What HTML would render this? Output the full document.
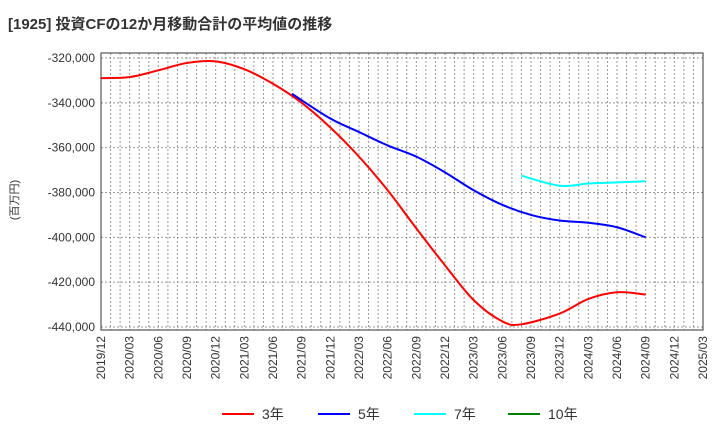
<!DOCTYPE html>
<html><head><meta charset="utf-8"><style>
body{margin:0;background:#fff;font-family:"Liberation Sans","Noto Sans CJK JP",sans-serif}
</style></head><body>
<svg id="c" width="720" height="440" xmlns="http://www.w3.org/2000/svg">
<text x="8" y="29" font-size="15" font-weight="bold" fill="#333" font-family="Liberation Sans, Noto Sans CJK JP, sans-serif">[1925]  投資CFの12か月移動合計の平均値の推移</text>
<text transform="translate(18,200) rotate(-90)" font-size="11" text-anchor="middle" fill="#333" font-family="Liberation Sans, Noto Sans CJK JP, sans-serif">(百万円)</text>
<g id="grid"></g><g id="axes"></g><g id="series"></g><g id="legend"></g>
</svg>
<script>
const xLabels=["2019/12","2020/03","2020/06","2020/09","2020/12","2021/03","2021/06","2021/09","2021/12","2022/03","2022/06","2022/09","2022/12","2023/03","2023/06","2023/09","2023/12","2024/03","2024/06","2024/09","2024/12","2025/03"];
const yTicks=[-320000,-340000,-360000,-380000,-400000,-420000,-440000];
const s3Months=[0,3,6,9,12,15,18,21,24,27,30,33,36,39,42,44,48,51,54,57];
const s3Values=[-329000,-328500,-325500,-322200,-321500,-325000,-331500,-340000,-351000,-364000,-379000,-396000,-412500,-428000,-437500,-438800,-434000,-427500,-424500,-425500];
const s5Months=[20,24,27,30,33,36,39,42,45,48,51,54,57];
const s5Values=[-336000,-347000,-353000,-359000,-364000,-371000,-379000,-385500,-390000,-392500,-393500,-395500,-400000];
const s7Months=[44,48,51,54,57];
const s7Values=[-372500,-377000,-376000,-375500,-375000];
const NS="http://www.w3.org/2000/svg";
const L=101,R=703,T=53,B=330;
const X=m=>L+m*(R-L)/63;
const Y=v=>58+(-320000-v)/1000*(327-58)/120;
function mk(tag,attrs,parent){const e=document.createElementNS(NS,tag);for(const k in attrs)e.setAttribute(k,attrs[k]);parent.appendChild(e);return e;}
const grid=document.getElementById('grid'),axes=document.getElementById('axes'),ser=document.getElementById('series'),leg=document.getElementById('legend');
for(let m=1;m<63;m++){const l=mk('line',{x1:X(m),x2:X(m),y1:T,y2:B,stroke:'#999','stroke-dasharray':'2,2','stroke-width':1},grid);

}
yTicks.forEach(v=>{const l=mk('line',{x1:L,x2:R,y1:Y(v),y2:Y(v),stroke:'#999','stroke-dasharray':'2,2','stroke-width':1},grid);


const t=mk('text',{x:L-6,y:Y(v)+4,'text-anchor':'end','font-size':12,fill:'#333'},axes);t.textContent=v.toLocaleString('en-US');

});
xLabels.forEach((s,i)=>{const x=X(i*3);const t=mk('text',{transform:`translate(${x+4},336) rotate(-90)`,'text-anchor':'end','font-size':12,fill:'#333'},axes);t.textContent=s;

});
const fr=mk('rect',{x:L,y:T,width:R-L,height:B-T,fill:'none',stroke:'#333','stroke-width':1},axes);


function path(ms,vs){const p=ms.map((m,i)=>[X(m),Y(vs[i])]);let d=`M${p[0][0]},${p[0][1]}`;
for(let i=0;i<p.length-1;i++){const p0=p[Math.max(0,i-1)],p1=p[i],p2=p[i+1],p3=p[Math.min(p.length-1,i+2)];
d+=` C${p1[0]+(p2[0]-p0[0])/6},${p1[1]+(p2[1]-p0[1])/6} ${p2[0]-(p3[0]-p1[0])/6},${p2[1]-(p3[1]-p1[1])/6} ${p2[0]},${p2[1]}`;}return d;}
[[s3Months,s3Values,'#ff0000','series-3yr'],[s5Months,s5Values,'#0000ff','series-5yr'],[s7Months,s7Values,'#00ffff','series-7yr']].forEach(([m,v,c,n])=>{
const p=mk('path',{d:path(m,v),fill:'none',stroke:c,'stroke-width':2},ser);

});
[['3年','#ff0000',222],['5年','#0000ff',318],['7年','#00ffff',414],['10年','#008000',508]].forEach(([t,c,x])=>{
const l=mk('line',{x1:x,x2:x+32,y1:414,y2:414,stroke:c,'stroke-width':2},leg);


const tx=mk('text',{x:x+40,y:419,'font-size':14,fill:'#333','font-family':'Liberation Sans, Noto Sans CJK JP, sans-serif'},leg);tx.textContent=t;

});
</script>
</body></html>
